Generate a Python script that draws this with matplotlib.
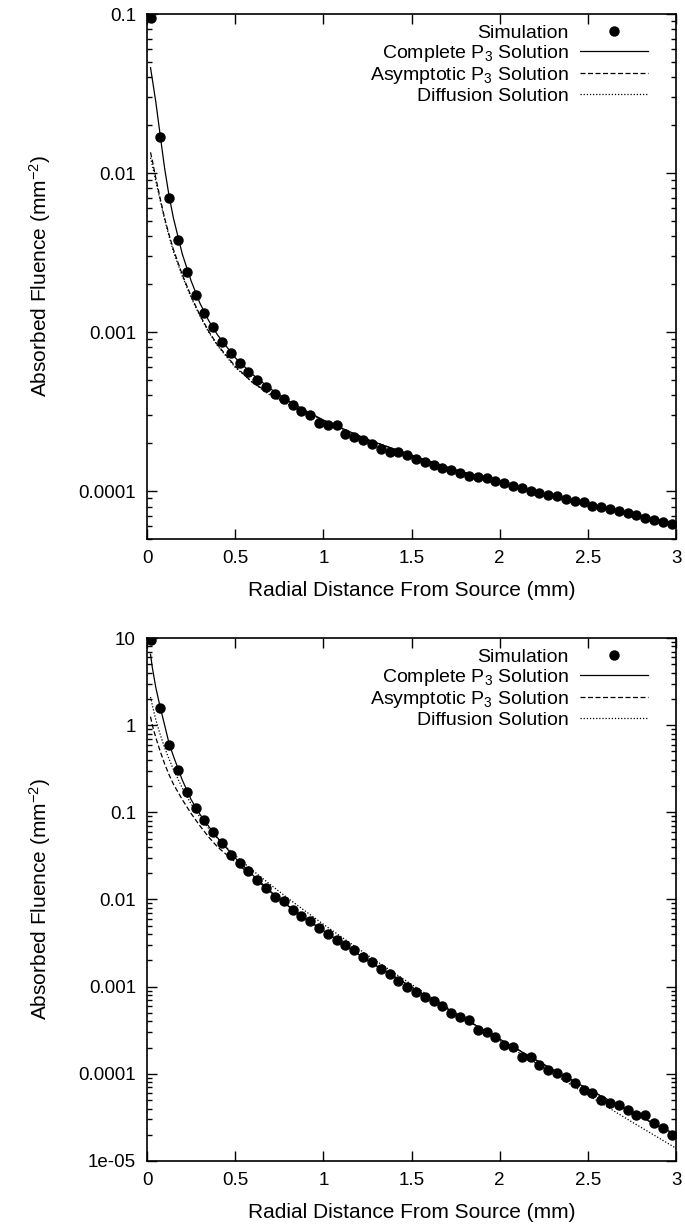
import matplotlib
matplotlib.use('Agg')
import matplotlib.pyplot as plt
import numpy as np
from matplotlib.ticker import FixedLocator, FixedFormatter, LogLocator, NullFormatter

plt.rcParams['font.family'] = ['Liberation Sans', 'DejaVu Sans']
plt.rcParams['mathtext.fontset'] = 'custom'
plt.rcParams['mathtext.rm'] = 'Liberation Sans'
plt.rcParams['mathtext.it'] = 'Liberation Sans:italic'
plt.rcParams['font.size'] = 13.5

# Monte Carlo bin centres (mm)
x_sim = [0.025, 0.075, 0.125, 0.175, 0.225, 0.275, 0.325, 0.375, 0.425, 0.475,
         0.525, 0.575, 0.625, 0.675, 0.725, 0.775, 0.825, 0.875, 0.925, 0.975,
         1.025, 1.075, 1.125, 1.175, 1.225, 1.275, 1.325, 1.375, 1.425, 1.475,
         1.525, 1.575, 1.625, 1.675, 1.725, 1.775, 1.825, 1.875, 1.925, 1.975,
         2.025, 2.075, 2.125, 2.175, 2.225, 2.275, 2.325, 2.375, 2.425, 2.475,
         2.525, 2.575, 2.625, 2.675, 2.725, 2.775, 2.825, 2.875, 2.925, 2.975]

# top panel: simulation
sim_top = [0.095, 0.0168, 0.0070, 0.0038, 0.0024, 0.00172, 0.00132, 0.00107, 0.00087, 0.00074,
           0.00064, 0.00056, 0.00050, 0.00045, 0.00041, 0.00038, 0.00035, 0.00032, 0.00030, 0.00027,
           0.00026, 0.00026, 0.00023, 0.00022, 0.00021, 0.000197, 0.000185, 0.000177, 0.000175, 0.000168,
           0.00016, 0.000152, 0.000146, 0.00014, 0.000135, 0.00013, 0.000125, 0.000122, 0.000121, 0.000116,
           0.000112, 0.000108, 0.000104, 0.0001, 0.000097, 0.000094, 0.000093, 0.000089, 0.000087, 0.000085,
           0.000081, 0.00008, 0.000077, 0.000075, 0.000073, 0.000071, 0.000068, 0.000066, 0.000064, 0.000062]

# bottom panel: simulation
sim_bot = [9.5, 1.56, 0.59, 0.306, 0.173, 0.111, 0.082, 0.059, 0.044, 0.0325,
           0.026, 0.021, 0.0168, 0.0135, 0.0108, 0.0095, 0.0076, 0.0064, 0.0056, 0.0047,
           0.0040, 0.0034, 0.0030, 0.0026, 0.0022, 0.0019, 0.0016, 0.00138, 0.00115, 0.0010,
           0.00088, 0.00077, 0.00068, 0.0006, 0.000497, 0.000454, 0.000417, 0.00032, 0.000305, 0.000268,
           0.000215, 0.000202, 0.000158, 0.000158, 0.000127, 0.000111, 0.000102, 0.000093, 0.0000782, 0.000066,
           0.00006, 0.00005, 0.0000458, 0.0000441, 0.0000385, 0.000034, 0.000034, 0.0000272, 0.000024, 0.00002]

# model curves, read at these radii (mm)
x_model = [0.02, 0.03, 0.05, 0.075, 0.1, 0.125, 0.15, 0.2, 0.25, 0.3, 0.35, 0.4, 0.5,
           0.6, 0.7, 0.8, 0.9, 1.0, 1.25, 1.5, 1.75, 2.0, 2.25, 2.5, 2.75, 3.0]

p3_top = [0.046, 0.039, 0.028, 0.0172, 0.0107, 0.0072, 0.0052, 0.0031, 0.0021, 0.00152, 0.00118, 0.00096, 0.00069,
          0.00054, 0.00044, 0.00037, 0.00032, 0.00028, 0.000211, 0.000168, 0.000136, 0.000113, 0.000096, 0.000083, 0.000072, 0.000062]
asym_top = [0.0135, 0.012, 0.0093, 0.0069, 0.0052, 0.0041, 0.0033, 0.0023, 0.00168, 0.00128, 0.00101, 0.00083, 0.00061,
            0.00048, 0.00041, 0.00035, 0.000315, 0.000278, 0.000211, 0.000168, 0.000136, 0.000113, 0.000096, 0.000083, 0.000072, 0.000062]
diff_top = [0.0125, 0.0112, 0.0089, 0.0067, 0.0051, 0.004, 0.0032, 0.00225, 0.00165, 0.00126, 0.001, 0.00082, 0.0006,
            0.00048, 0.0004, 0.00035, 0.000312, 0.000277, 0.00021, 0.000167, 0.000135, 0.000112, 0.000095, 0.000082, 0.000071, 0.000061]

p3_bot = [6.5, 4.6, 2.7, 1.6, 1.0, 0.62, 0.44, 0.235, 0.14, 0.095, 0.069, 0.051, 0.030,
          0.019, 0.0124, 0.0085, 0.006, 0.0044, 0.002, 0.00099, 0.00049, 0.00025, 0.000128, 0.000067, 0.000036, 0.00002]
asym_bot = [1.25, 1.0, 0.72, 0.5, 0.36, 0.27, 0.21, 0.14, 0.097, 0.07, 0.052, 0.04, 0.027,
            0.0182, 0.0122, 0.0084, 0.006, 0.0044, 0.002, 0.00099, 0.00049, 0.00025, 0.000128, 0.000067, 0.000036, 0.00002]
diff_bot = [2.1, 1.7, 1.15, 0.78, 0.55, 0.41, 0.31, 0.19, 0.125, 0.088, 0.065, 0.05, 0.032,
            0.0215, 0.0148, 0.0103, 0.0073, 0.0052, 0.0023, 0.00106, 0.0005, 0.00024, 0.000116, 0.000057, 0.000028, 0.000014]

x_ticks = [0, 0.5, 1, 1.5, 2, 2.5, 3]
x_ticklabels = ['0', '0.5', '1', '1.5', '2', '2.5', '3']
y_ticks_top = [1e-4, 1e-3, 1e-2, 1e-1]
y_labels_top = ['0.0001', '0.001', '0.01', '0.1']
y_ticks_bot = [1e-5, 1e-4, 1e-3, 1e-2, 1e-1, 1, 10]
y_labels_bot = ['1e-05', '0.0001', '0.001', '0.01', '0.1', '1', '10']

fig = plt.figure(figsize=(6.85, 12.3), dpi=100)
ax_top = fig.add_axes([0.2146, 0.5618, 0.7724, 0.4268])
ax_bot = fig.add_axes([0.2146, 0.0561, 0.7724, 0.4252])


def draw_panel(ax, sim, p3, asym, diff, ylim, yticks, ylabels):
    ax.plot(x_sim, sim, 'o', color='black', markersize=6.5, label='Simulation')
    ax.plot(x_model, p3, '-', color='black', lw=0.9, label='Complete P$_3$ Solution')
    ax.plot(x_model, asym, color='black', lw=0.9, linestyle=(0, (4, 2)), label='Asymptotic P$_3$ Solution')
    ax.plot(x_model, diff, color='black', lw=0.9, linestyle=(0, (1, 1.5)), label='Diffusion Solution')
    ax.set_yscale('log')
    ax.set_xlim(0, 3)
    ax.set_ylim(*ylim)
    ax.xaxis.set_major_locator(FixedLocator(x_ticks))
    ax.xaxis.set_major_formatter(FixedFormatter(x_ticklabels))
    ax.yaxis.set_major_locator(FixedLocator(yticks))
    ax.yaxis.set_major_formatter(FixedFormatter(ylabels))
    ax.yaxis.set_minor_locator(LogLocator(base=10, subs=np.arange(2, 10), numticks=20))
    ax.yaxis.set_minor_formatter(NullFormatter())
    ax.tick_params(which='both', direction='in', top=True, right=True, width=1)
    ax.tick_params(which='major', length=7, pad=8, labelsize=13.5)
    ax.tick_params(which='minor', length=3.5)
    for s in ax.spines.values():
        s.set_linewidth(1.2)
    ax.set_xlabel('Radial Distance From Source (mm)', labelpad=10, fontsize=15)
    ax.set_ylabel('Absorbed Fluence (mm$^{\\mathregular{-2}}$)', labelpad=18, fontsize=15)
    leg = ax.legend(loc='upper right', frameon=False, markerfirst=False, fontsize=14,
                    handlelength=3.5, handletextpad=0.6, labelspacing=0.05,
                    borderaxespad=0.0, bbox_to_anchor=(0.962, 0.995))
    return leg


draw_panel(ax_top, sim_top, p3_top, asym_top, diff_top, (5e-5, 0.1), y_ticks_top, y_labels_top)
draw_panel(ax_bot, sim_bot, p3_bot, asym_bot, diff_bot, (1e-5, 10), y_ticks_bot, y_labels_bot)

fig.savefig('out.png', dpi=100)
